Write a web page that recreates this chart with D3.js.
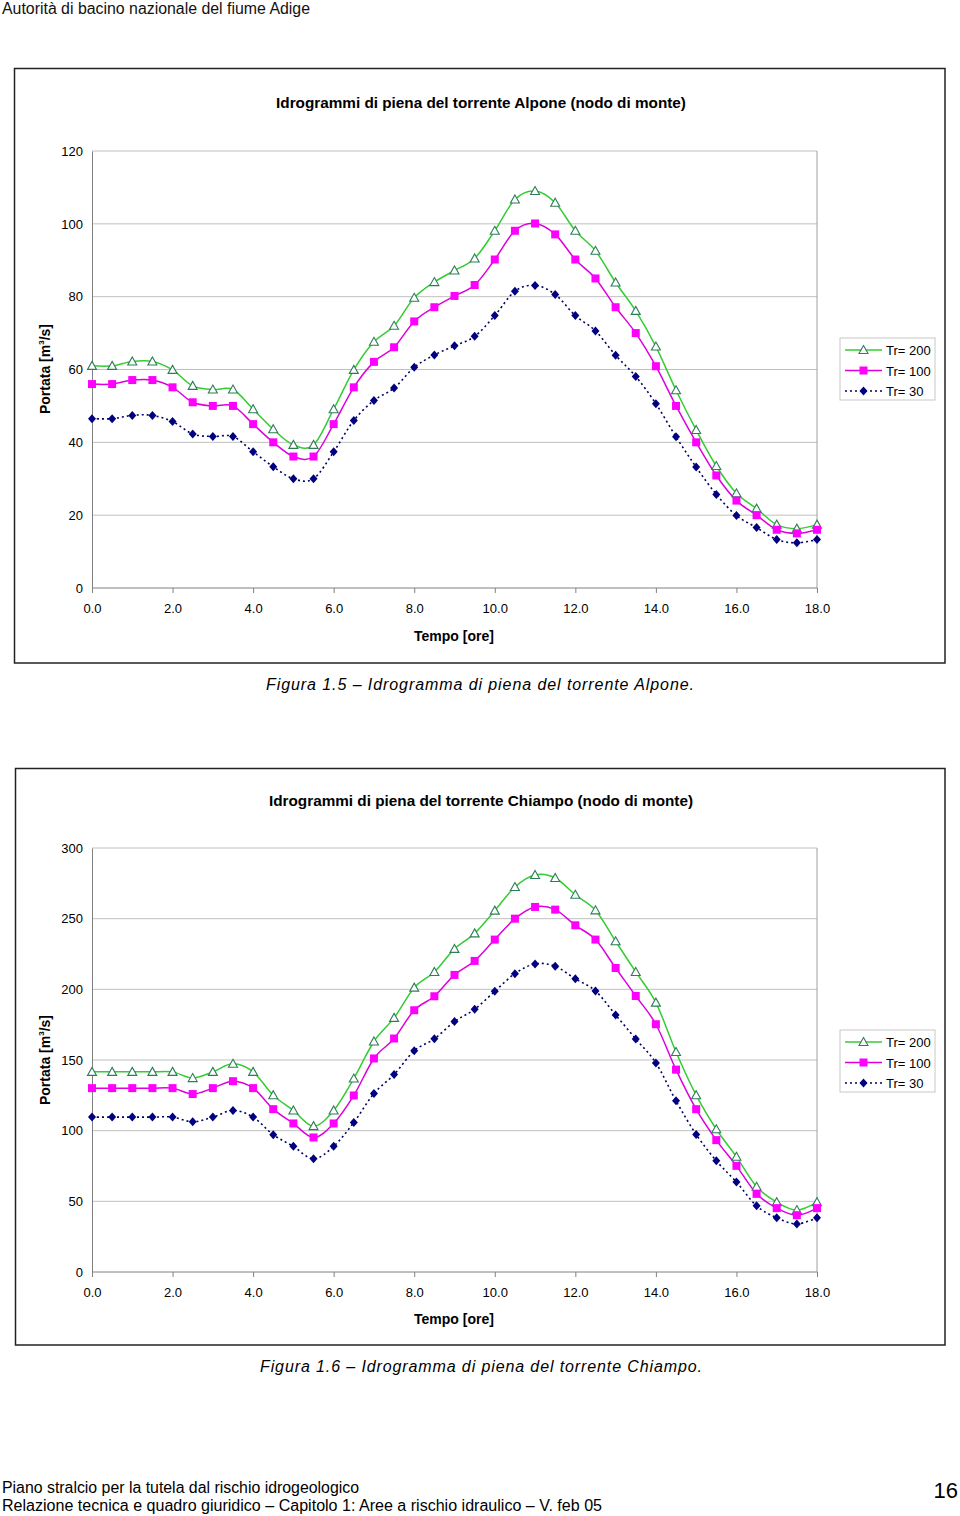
<!DOCTYPE html>
<html><head><meta charset="utf-8">
<script src="https://cdn.jsdelivr.net/npm/d3@7"></script>
<style>
body{margin:0;background:#fff;}
svg{display:block;font-family:"Liberation Sans",Arial,sans-serif;}
</style></head>
<body>
<svg id="page" width="960" height="1516"></svg>
<script>
// ---------- DATA ----------
const times = d3.range(0, 18.0001, 0.5);
const seriesNames = ["Tr= 200", "Tr= 100", "Tr= 30"];
const xTickLabels = ["0.0","2.0","4.0","6.0","8.0","10.0","12.0","14.0","16.0","18.0"];

// Alpone (chart 1)
const alponeTr200 = [61.0,61.0,62.2,62.2,59.9,55.5,54.5,54.5,49.1,43.6,39.3,39.3,49.1,59.9,67.6,72.0,79.7,84.0,87.2,90.5,98.1,106.7,109.0,105.8,98.1,92.6,83.9,76.1,66.3,54.3,43.4,33.5,26.0,21.8,17.4,16.3,17.4];
const alponeTr100 = [56.0,56.0,57.1,57.1,55.1,51.0,50.0,50.0,45.0,40.0,36.1,36.1,45.0,55.1,62.1,66.1,73.2,77.1,80.2,83.2,90.2,98.1,100.1,97.1,90.2,85.0,77.1,70.0,60.9,50.0,40.0,30.9,24.0,20.0,16.0,15.0,16.0];
const alponeTr30  = [46.5,46.5,47.4,47.4,45.7,42.3,41.6,41.6,37.4,33.3,30.0,30.0,37.4,46.0,51.5,54.9,60.6,64.0,66.5,69.1,74.8,81.5,83.1,80.6,74.8,70.6,63.9,58.1,50.6,41.5,33.2,25.7,19.9,16.6,13.3,12.4,13.3];
const alponeYTicks = [0,20,40,60,80,100,120];

// Chiampo (chart 2)
const chiampoTr200 = [141.6,141.6,141.6,141.6,141.6,137.2,141.6,147.3,141.6,125.1,114.3,103.2,114.3,136.9,163.1,179.8,201.2,212.3,228.6,239.6,255.7,272.4,280.9,278.8,266.9,255.9,234.0,212.3,190.6,155.7,125.1,101.0,81.5,60.3,49.4,43.8,49.4];
const chiampoTr100 = [130.1,130.1,130.1,130.1,130.1,125.9,130.1,135.0,130.1,115.2,105.1,95.2,105.1,124.9,151.1,165.2,185.2,195.1,210.2,220.1,235.2,250.0,258.3,256.4,245.3,235.2,215.1,195.3,175.3,143.2,115.2,93.3,75.1,55.3,45.2,40.2,45.2];
const chiampoTr30  = [109.6,109.6,109.6,109.6,109.6,106.3,109.6,114.3,109.6,97.1,88.9,80.1,88.9,105.8,126.3,139.7,156.5,165.0,177.2,185.9,198.6,211.1,218.0,216.3,207.4,198.9,181.9,164.9,147.9,121.1,97.3,78.7,63.6,46.8,38.4,34.0,38.4];
const chiampoYTicks = [0,50,100,150,200,250,300];

// ---------- STYLE ----------
const styles = [
  {line:"#33cc33", dash:null, marker:"triangle", mfill:"#ffffff", mstroke:"#2e7d57"},
  {line:"#dd00dd", dash:null, marker:"square", mfill:"#ff00ff", mstroke:"#ff00ff"},
  {line:"#000066", dash:"2,3", marker:"diamond", mfill:"#000080", mstroke:"#000080"}
];

const svg = d3.select("#page");

// header
svg.append("text").attr("x",2).attr("y",14).attr("font-size",16).attr("fill","#111")
  .attr("textLength",308).attr("lengthAdjust","spacingAndGlyphs")
  .text("Autorità di bacino nazionale del fiume Adige");

function drawMarker(g, type, x, y, st){
  if(type==="triangle"){
    g.append("path").attr("d",`M${x},${y-4.5}L${x+4.5},${y+3.5}L${x-4.5},${y+3.5}Z`)
      .attr("fill",st.mfill).attr("stroke",st.mstroke).attr("stroke-width",1.1);
  } else if(type==="square"){
    g.append("rect").attr("x",x-4).attr("y",y-4).attr("width",8).attr("height",8)
      .attr("fill",st.mfill);
  } else {
    g.append("path").attr("d",`M${x},${y-4.5}L${x+4},${y}L${x},${y+4.5}L${x-4},${y}Z`)
      .attr("fill",st.mfill);
  }
}

function chart(cfg){
  const g = svg.append("g");
  g.append("rect").attr("x",cfg.box[0]).attr("y",cfg.box[1]).attr("width",cfg.box[2]-cfg.box[0]).attr("height",cfg.box[3]-cfg.box[1])
    .attr("fill","none").attr("stroke","#222").attr("stroke-width",1.5);
  g.append("text").attr("x",481).attr("y",cfg.titleY).attr("text-anchor","middle")
    .attr("font-size",15.3).attr("font-weight","bold").attr("fill","#000").text(cfg.title);

  const x = d3.scaleLinear().domain([0,18]).range([92,817]);
  const y = d3.scaleLinear().domain([0,cfg.ymax]).range([cfg.plotBottom,cfg.plotTop]);

  g.append("g").selectAll("line").data(cfg.yticks.slice(1)).join("line")
    .attr("x1",92).attr("x2",817).attr("y1",d=>y(d)).attr("y2",d=>y(d))
    .attr("stroke","#c0c0c0").attr("stroke-width",1);
  g.append("line").attr("x1",817).attr("x2",817).attr("y1",y(cfg.ymax)).attr("y2",y(0)).attr("stroke","#a0a0a0");

  const ya = d3.axisLeft(y).tickValues(cfg.yticks).tickSize(0).tickPadding(9).tickFormat(d3.format("d"));
  const yg = g.append("g").attr("transform","translate(92,0)").call(ya);
  yg.select(".domain").attr("stroke","#808080");
  yg.selectAll("text").attr("font-size",13).attr("fill","#000").attr("font-family","'Liberation Sans',Arial,sans-serif");

  const xa = d3.axisBottom(x).tickValues(d3.range(0,18.001,2)).tickSize(5).tickPadding(11)
    .tickFormat((d,i)=>xTickLabels[i]);
  const xg = g.append("g").attr("transform",`translate(0,${y(0)})`).call(xa);
  xg.select(".domain").attr("stroke","#808080").attr("d",`M92,0H817`);
  xg.selectAll(".tick line").attr("stroke","#808080");
  xg.selectAll("text").attr("font-size",13).attr("fill","#000").attr("font-family","'Liberation Sans',Arial,sans-serif");

  g.append("text").attr("x",454).attr("y",cfg.xTitleY).attr("text-anchor","middle")
    .attr("font-size",14).attr("font-weight","bold").text("Tempo [ore]");
  const yt = g.append("text").attr("transform",`translate(${cfg.yTitleX},${cfg.yTitleY}) rotate(-90)`)
    .attr("text-anchor","middle").attr("font-size",14).attr("font-weight","bold");
  yt.append("tspan").text("Portata [m");
  yt.append("tspan").attr("font-size",8).attr("dy",-6).text("3");
  yt.append("tspan").attr("dy",6).text("/s]");

  const line = d3.line().x((d,i)=>x(times[i])).y(d=>y(d)).curve(d3.curveCatmullRom.alpha(0));
  cfg.series.forEach((s,k)=>{
    const st = styles[k];
    g.append("path").datum(s).attr("d",line).attr("fill","none")
      .attr("stroke",st.line).attr("stroke-width",k===2?1.6:1.5)
      .attr("stroke-dasharray",st.dash);
  });
  cfg.series.forEach((s,k)=>{
    const st = styles[k];
    const mg = g.append("g");
    s.forEach((v,i)=>drawMarker(mg, st.marker, x(times[i]), y(v), st));
  });

  const lg = g.append("g");
  lg.append("rect").attr("x",840).attr("y",cfg.legendY).attr("width",95).attr("height",62)
    .attr("fill","#fff").attr("stroke","#c8c8c8");
  seriesNames.forEach((n,k)=>{
    const st = styles[k];
    const yy = cfg.legendY + 12 + k*20.5;
    lg.append("line").attr("x1",845).attr("x2",882).attr("y1",yy).attr("y2",yy)
      .attr("stroke",st.line).attr("stroke-width",1.5).attr("stroke-dasharray",st.dash);
    drawMarker(lg, st.marker, 863.5, yy, st);
    lg.append("text").attr("x",886).attr("y",yy+5).attr("font-size",13).text(n);
  });

  g.append("text").attr("x",cfg.capX).attr("y",cfg.capY).attr("font-size",16).attr("font-style","italic")
    .attr("textLength",cfg.capW).attr("lengthAdjust","spacing").attr("fill","#000").text(cfg.caption);
}

chart({
  box:[14.5,68.5,945,663], title:"Idrogrammi di piena del torrente Alpone (nodo di monte)", titleY:108,
  ymax:120, yticks:alponeYTicks, plotTop:151, plotBottom:588,
  xTitleY:641, yTitleX:50, yTitleY:369,
  series:[alponeTr200, alponeTr100, alponeTr30], legendY:338,
  caption:"Figura 1.5 – Idrogramma di piena del torrente Alpone.", capX:266, capY:690, capW:428
});
chart({
  box:[15.5,768.5,945,1345], title:"Idrogrammi di piena del torrente Chiampo (nodo di monte)", titleY:806,
  ymax:300, yticks:chiampoYTicks, plotTop:848, plotBottom:1272,
  xTitleY:1324, yTitleX:50, yTitleY:1060,
  series:[chiampoTr200, chiampoTr100, chiampoTr30], legendY:1030,
  caption:"Figura 1.6 – Idrogramma di piena del torrente Chiampo.", capX:260, capY:1372, capW:442
});

svg.append("text").attr("x",2).attr("y",1493).attr("font-size",16).attr("textLength",357).attr("lengthAdjust","spacingAndGlyphs")
  .text("Piano stralcio per la tutela dal rischio idrogeologico");
svg.append("text").attr("x",2).attr("y",1511).attr("font-size",16).attr("textLength",600).attr("lengthAdjust","spacingAndGlyphs")
  .text("Relazione tecnica e quadro giuridico – Capitolo 1: Aree a rischio idraulico  – V. feb 05");
svg.append("text").attr("x",958).attr("y",1498).attr("text-anchor","end").attr("font-size",22).text("16");
</script>
</body></html>
